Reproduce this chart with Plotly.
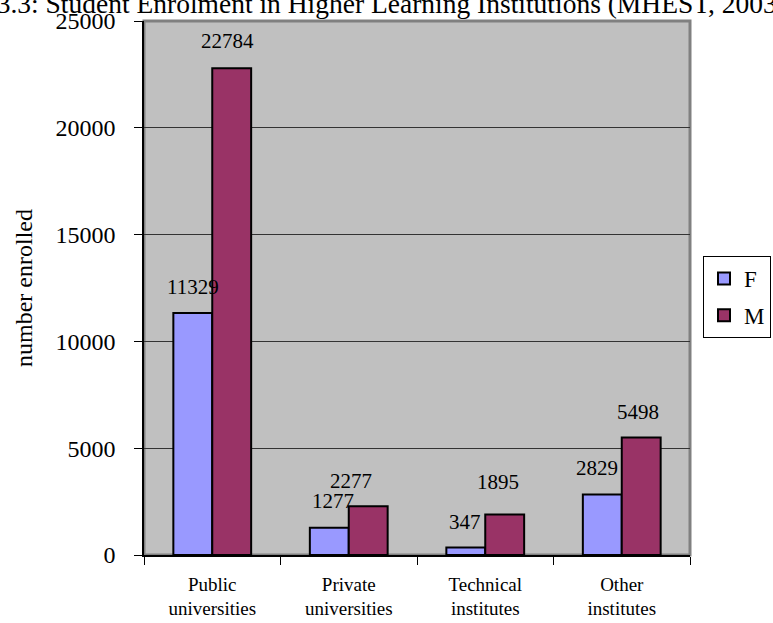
import plotly.graph_objects as go

categories = ["Public<br>universities", "Private<br>universities", "Technical<br>institutes", "Other<br>institutes"]
female = [11329, 1277, 347, 2829]
male = [22784, 2277, 1895, 5498]
y_ticks = [0, 5000, 10000, 15000, 20000, 25000]
y_tick_labels = ["0", "5000", "10000", "15000", "20000", "25000"]
title_text = "Figure 3.3: Student Enrolment in Higher Learning Institutions (MHEST, 2003)"

# label placement tweaks (pixels) to mimic original label positions
f_label_dx = [0, 4, -1, -5]
f_label_dy = [26, 27, 26, 27]
m_label_dx = [-4, -17, -7, -3]
m_label_dy = [27, 25, 33, 26]

BAR_HALF = 19.5
FONT = "Liberation Serif, Times New Roman, serif"

fig = go.Figure()
fig.add_trace(go.Bar(name="F", x=categories, y=female, legendgroup="F",
                     marker=dict(color="#9999FF", line=dict(color="black", width=2))))
fig.add_trace(go.Bar(name="M", x=categories, y=male, legendgroup="M",
                     marker=dict(color="#993366", line=dict(color="black", width=2))))

annotations = []
for i, c in enumerate(categories):
    annotations.append(dict(x=c, y=female[i], xref="x", yref="y", text=str(female[i]),
                            showarrow=False, xshift=-BAR_HALF + f_label_dx[i], yshift=f_label_dy[i],
                            font=dict(family=FONT, size=21, color="black")))
    annotations.append(dict(x=c, y=male[i], xref="x", yref="y", text=str(male[i]),
                            showarrow=False, xshift=BAR_HALF + m_label_dx[i], yshift=m_label_dy[i],
                            font=dict(family=FONT, size=21, color="black")))

annotations.append(dict(x=0, y=1, xref="paper", yref="paper", xanchor="left", yanchor="middle",
                        xshift=-228, yshift=18, text=title_text, showarrow=False,
                        font=dict(family=FONT, size=27.5, color="black")))

fig.update_layout(
    width=773, height=623,
    margin=dict(l=144, r=83, t=21, b=68, autoexpand=False),
    paper_bgcolor="white",
    plot_bgcolor="#C0C0C0",
    barmode="group",
    bargap=0.43,
    bargroupgap=0,
    font=dict(family=FONT, color="black"),
    annotations=annotations,
    showlegend=True,
    legend=dict(xref="container", yref="container", x=703 / 773, y=1 - 256 / 623,
                xanchor="left", yanchor="top",
                bordercolor="black", borderwidth=1, bgcolor="white",
                font=dict(family=FONT, size=23, color="black"),
                traceorder="grouped", tracegroupgap=4, itemwidth=30),
    shapes=[dict(type="rect", xref="paper", yref="paper", x0=0, y0=0, x1=1, y1=1,
                 line=dict(color="#808080", width=3), layer="below")],
)

fig.update_yaxes(range=[0, 25000], tickvals=y_ticks, ticktext=y_tick_labels,
                 ticks="outside", ticklen=8, automargin=False,
                 tickcolor="black", showline=True, linecolor="black", linewidth=1.5,
                 showgrid=True, gridcolor="#333333", gridwidth=1, zeroline=False,
                 tickfont=dict(family=FONT, size=24, color="black"),
                 ticklabelstandoff=14,
                 title=dict(text="number enrolled", font=dict(family=FONT, size=24, color="black"),
                            standoff=16))
fig.update_xaxes(ticks="outside", ticklen=8, tickcolor="black", tickson="boundaries",
                 automargin=False,
                 showline=True, linecolor="black", linewidth=1.5, showgrid=False,
                 tickfont=dict(family=FONT, size=19, color="black"),
                 ticklabelstandoff=11)

fig.write_html("out.html")
